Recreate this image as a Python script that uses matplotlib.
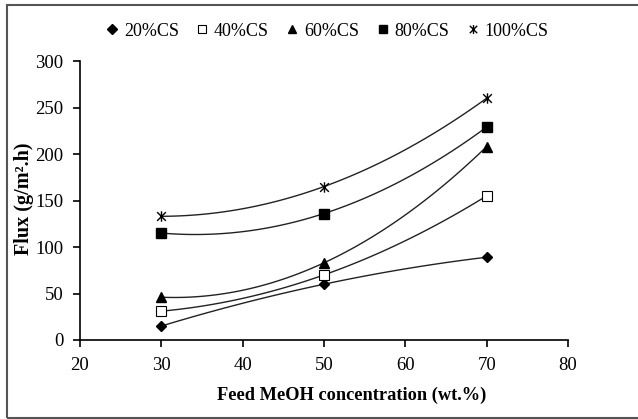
import numpy as np
import matplotlib
matplotlib.use("Agg")
import matplotlib.pyplot as plt
from matplotlib.path import Path
from matplotlib.lines import Line2D
from matplotlib.patches import Rectangle

plt.rcParams['font.family'] = ['Liberation Serif', 'DejaVu Serif']

x = [30, 50, 70]
series_names = ["20%CS", "40%CS", "60%CS", "80%CS", "100%CS"]
cs20 = [15, 60, 89]
cs40 = [31, 70, 155]
cs60 = [46, 83, 208]
cs80 = [115, 136, 229]
cs100 = [133, 165, 260]
values = [cs20, cs40, cs60, cs80, cs100]
xticks = [20, 30, 40, 50, 60, 70, 80]
yticks = [0, 50, 100, 150, 200, 250, 300]

star = Path([(-1, -1), (1, 1), (-1, 1), (1, -1), (0, -1.2), (0, 1.2)],
            [Path.MOVETO, Path.LINETO, Path.MOVETO, Path.LINETO, Path.MOVETO, Path.LINETO])
markers = [dict(marker='D', mfc='black', mec='black', ms=5.5),
           dict(marker='s', mfc='white', mec='black', ms=7, mew=0.8),
           dict(marker='^', mfc='black', mec='black', ms=7),
           dict(marker='s', mfc='black', mec='black', ms=7.5),
           dict(marker=star, mfc='none', mec='black', ms=7.5, mew=1.0)]


def smooth_curve(xs, ys, n=120):
    # smooth interpolating curve through the three points
    coef = np.polyfit(xs, ys, len(xs) - 1)
    sx = np.linspace(min(xs), max(xs), n)
    return sx, np.polyval(coef, sx)


fig = plt.figure(figsize=(6.38, 4.19), dpi=100)
ax = fig.add_axes([80 / 638, 1 - 340 / 419, (568 - 80) / 638, (340 - 61) / 419])

for vals, mk in zip(values, markers):
    sx, sy = smooth_curve(x, vals)
    ax.plot(sx, sy, color='#222222', lw=1.0, zorder=2)
    ax.plot(x, vals, linestyle='none', zorder=3, **mk)

ax.set_xlim(20, 80)
ax.set_ylim(0, 300)
ax.set_xticks(xticks)
ax.set_yticks(yticks)
ax.spines['top'].set_visible(False)
ax.spines['right'].set_visible(False)
for s in ['left', 'bottom']:
    ax.spines[s].set_linewidth(1.2)
ax.tick_params(direction='out', length=5, width=1.2, labelsize=13.5, colors='black')
ax.tick_params(axis='y', pad=7)
ax.tick_params(axis='x', pad=7)
ax.set_xlabel('Feed MeOH concentration (wt.%)', fontsize=13.2, fontweight='bold')
ax.xaxis.set_label_coords((352 - 80) / 488, (340 - 400) / 279)
ax.xaxis.label.set_verticalalignment('baseline')
ax.set_ylabel('Flux (g/m².h)', fontsize=14.5, fontweight='bold')
ax.yaxis.set_label_coords((24 - 80) / 488, (340 - 199) / 279)
ax.yaxis.label.set_verticalalignment('center')

handles = [Line2D([], [], linestyle='none', **dict(mk, ms=mk['ms'] * 0.85)) for mk in markers]
fig.legend(handles, series_names, loc='center', bbox_to_anchor=(328 / 638, 1 - 31 / 419),
           ncol=5, frameon=False, fontsize=13, handlelength=0.5, handletextpad=0.4,
           columnspacing=1.05, borderpad=0.2)

fig.add_artist(Rectangle((7 / 638, 1 - 418 / 419), 1.0, 413 / 419, transform=fig.transFigure,
                         fill=False, edgecolor='#555555', lw=1.5))

fig.savefig('out.png', dpi=100)
